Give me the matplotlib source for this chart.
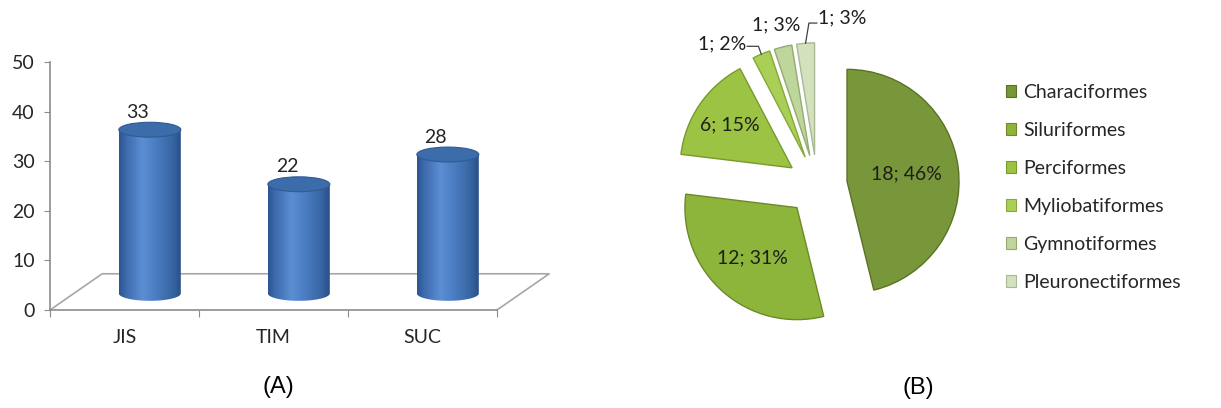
import numpy as np
import matplotlib
matplotlib.use("Agg")
import matplotlib.pyplot as plt
from matplotlib.patches import Ellipse, Polygon, Patch
from matplotlib.colors import LinearSegmentedColormap

plt.rcParams['font.family'] = ['Lato', 'DejaVu Sans']

# (A) species count per site
sites = ['JIS', 'TIM', 'SUC']
counts = [33, 22, 28]

# (B) species per order
orders = ['Characiformes', 'Siluriformes', 'Perciformes',
          'Myliobatiformes', 'Gymnotiformes', 'Pleuronectiformes']
species = [18, 12, 6, 1, 1, 1]
pct_text = ['46%', '31%', '15%', '2%', '3%', '3%']

fs = 14
txt = '#262626'

fig = plt.figure(figsize=(12.21, 4.08), dpi=100)

# ---------- (A) cylinder column chart ----------
ax1 = fig.add_axes([50 / 1221, 98 / 408, 510 / 1221, 248 / 408])
ax1.set_xlim(0, 510 / 149)
ax1.set_ylim(0, 50)
ax1.patch.set_visible(False)

grey = '#8c8c8c'
depth_x, depth_y = 0.35, 7.3   # floor depth
n = len(sites)

# floor outline (front edge is the bottom spine)
ax1.plot([0, depth_x, n + depth_x, n], [0, depth_y, depth_y, 0],
         color='#a6a6a6', lw=1.2, clip_on=False, zorder=1)

for s in ['top', 'right']:
    ax1.spines[s].set_visible(False)
for s in ['left', 'bottom']:
    ax1.spines[s].set_color(grey)
    ax1.spines[s].set_linewidth(1.2)
ax1.spines['left'].set_bounds(0, 50)
ax1.spines['bottom'].set_bounds(0, n)

ax1.set_yticks(range(0, 51, 10))
ax1.tick_params(axis='y', length=4, color=grey, labelsize=fs, pad=7,
                labelcolor=txt)
ax1.set_xticks(range(n + 1))
ax1.set_xticklabels([''] * (n + 1))
ax1.tick_params(axis='x', which='major', length=5, color=grey)
ax1.set_xticks([i + 0.5 for i in range(n)], minor=True)
ax1.set_xticklabels(sites, minor=True)
ax1.tick_params(axis='x', which='minor', length=0, labelsize=fs, pad=14,
                labelcolor=txt)

body_cmap = LinearSegmentedColormap.from_list(
    'cyl', [(0.0, '#2c5690'), (0.12, '#3e6cae'), (0.38, '#5b8ed3'),
            (0.62, '#4a7bc0'), (0.86, '#3866a4'), (1.0, '#2a5189')])
grad = np.linspace(0, 1, 200).reshape(1, -1)

half_w = 0.208
ell_h = 1.5
base = depth_y / 2 - 0.3
for i, v in enumerate(counts):
    xc = i + 0.5 + depth_x / 2 - 0.005
    top = base + v
    xl, xr = xc - half_w, xc + half_w
    t = np.linspace(np.pi, 2 * np.pi, 60)
    bottom_arc = np.column_stack([xc + half_w * np.cos(t), base + ell_h * np.sin(t)])
    outline = np.vstack([[xl, top], bottom_arc, [xr, top]])
    body = Polygon(outline, closed=True, facecolor='none', edgecolor='none')
    ax1.add_patch(body)
    im = ax1.imshow(grad, cmap=body_cmap, aspect='auto', zorder=3,
                    extent=[xl, xr, base - ell_h, top], interpolation='bilinear')
    im.set_clip_path(body)
    ax1.add_patch(Ellipse((xc, top), 2 * half_w, 2 * ell_h, facecolor='#3d6cab',
                          edgecolor='#2f5b95', lw=0.8, zorder=4))
    ax1.text(xc - 0.08, top + ell_h + 0.3, str(v), ha='center', va='bottom',
             fontsize=fs, color=txt, zorder=5)

ax1.set_xlim(0, 510 / 149)
ax1.set_ylim(0, 50)

# ---------- (B) exploded pie ----------
r_px = 112
cx, cy = 817, 185
x0, x1 = 660, 980
y_top, y_bot = 0, 330
ax2 = fig.add_axes([x0 / 1221, (408 - y_bot) / 408, (x1 - x0) / 1221, (y_bot - y_top) / 408])
ax2.axis('off')

greens = ['#77973a', '#8db43b', '#9cc343', '#aacf56', '#bed59b', '#d3e1bc']
edges = ['#5a7224', '#6c8a28', '#78992c', '#86a83a', '#94ab6f', '#a9b995']
explode = [0.27] * len(species)
wedges, _ = ax2.pie(species, colors=greens, explode=explode, startangle=90,
                    counterclock=False, radius=1,
                    wedgeprops=dict(linewidth=1.0))
for w, ec in zip(wedges, edges):
    w.set_edgecolor(ec)
ax2.set_aspect('auto')
ax2.set_xlim((x0 - cx) / r_px, (x1 - cx) / r_px)
ax2.set_ylim((cy - y_bot) / r_px, (cy - y_top) / r_px)

labels = [f'{s}; {p}' for s, p in zip(species, pct_text)]
inside_dist = [0.53, 0.6, 0.68]
for w, lab, d in zip(wedges[:3], labels[:3], inside_dist):
    mid = np.deg2rad((w.theta1 + w.theta2) / 2)
    px, py = w.center
    ax2.text(px + d * np.cos(mid), py + d * np.sin(mid), lab, ha='center',
             va='center', fontsize=fs, color='#1e1e1e')

# small slices: labels outside, with elbow leaders
def tip(w):
    mid = np.deg2rad((w.theta1 + w.theta2) / 2)
    return w.center[0] + np.cos(mid), w.center[1] + np.sin(mid)

lc = '#404040'
tx, ty = tip(wedges[3])
ex, ey = tx - 0.025, ty + 0.07
ax2.plot([tx, ex, ex - 0.1], [ty, ey, ey], color=lc, lw=0.9, clip_on=False)
ax2.text(ex - 0.11, ey + 0.02, labels[3], ha='right', va='center', fontsize=fs,
         color='#1e1e1e')

tx, ty = tip(wedges[4])
ax2.text(tx - 0.06, ty + 0.2, labels[4], ha='center', va='center', fontsize=fs,
         color='#1e1e1e')

tx, ty = tip(wedges[5])
ex, ey = tx + 0.03, ty + 0.18
ax2.plot([tx, ex, ex + 0.07], [ty, ey, ey], color=lc, lw=0.9, clip_on=False)
ax2.text(ex + 0.08, ey + 0.05, labels[5], ha='left', va='center', fontsize=fs,
         color='#1e1e1e')

handles = [Patch(facecolor=g, edgecolor=e, lw=0.8) for g, e in zip(greens, edges)]
fig.legend(handles, orders, loc='upper left', bbox_to_anchor=(998 / 1221, 1 - 76 / 408),
           frameon=False, fontsize=fs, handlelength=0.55, handleheight=0.55,
           handletextpad=0.35, labelspacing=1.08, borderaxespad=0,
           labelcolor=txt)

fig.text(278 / 1221, 1 - 387 / 408, '(A)', ha='center', va='center', fontsize=17,
         family='Liberation Sans')
fig.text(918 / 1221, 1 - 388 / 408, '(B)', ha='center', va='center', fontsize=17,
         family='Liberation Sans')

fig.savefig('out.png', dpi=100)
